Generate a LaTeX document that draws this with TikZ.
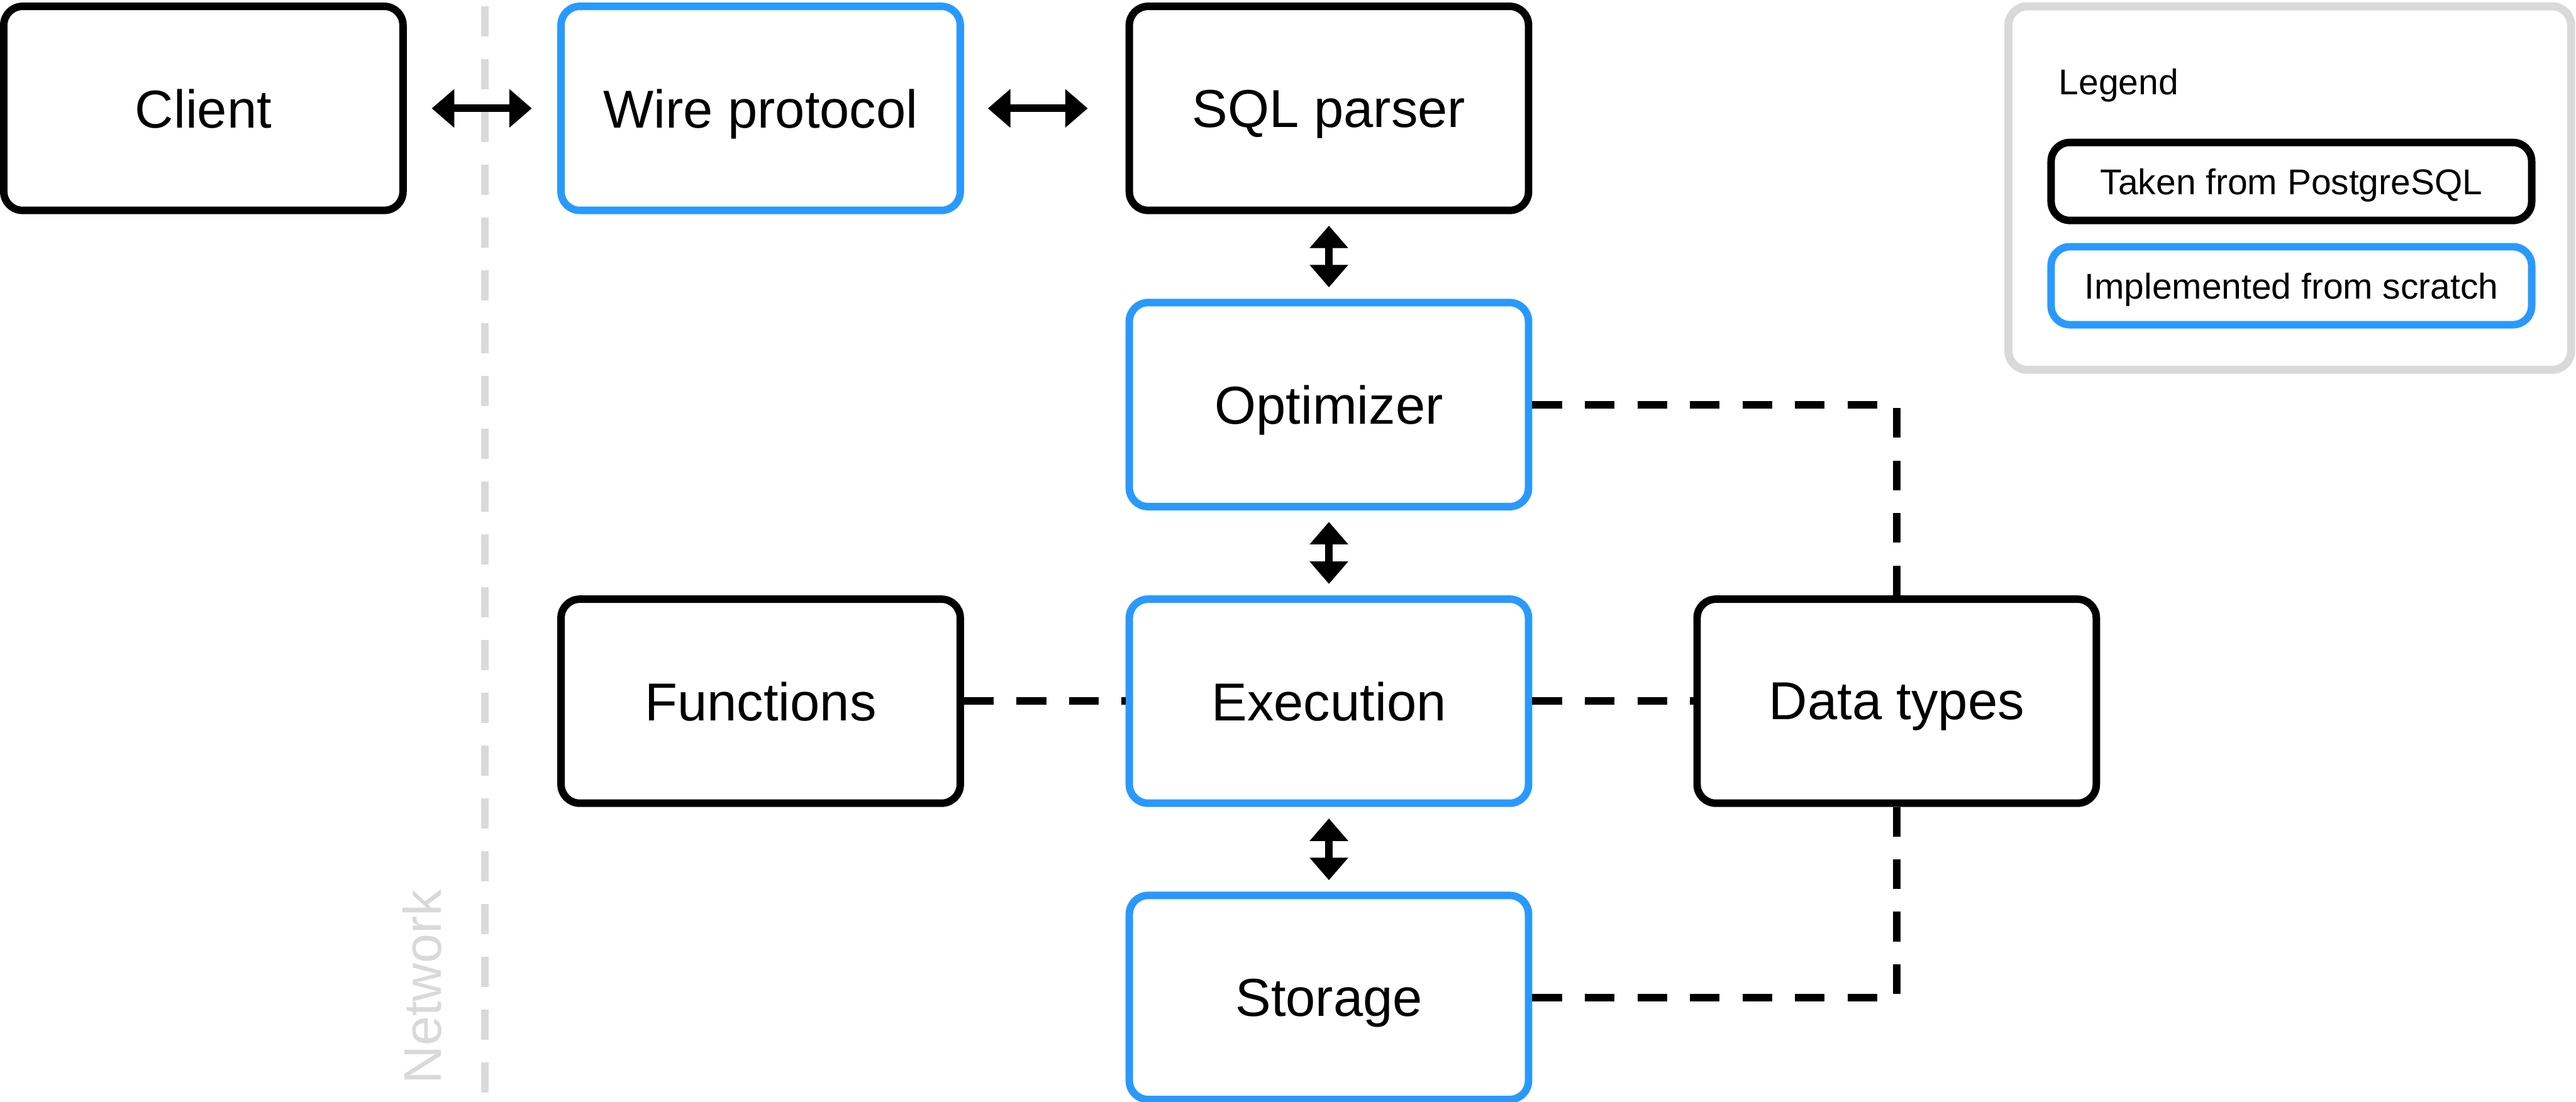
\documentclass[tikz,border=0pt]{standalone}
\usepackage{fontspec}
\setmainfont{Liberation Sans}
\usetikzlibrary{arrows.meta}

\definecolor{scratchblue}{RGB}{41,153,255}
\definecolor{netgray}{RGB}{217,217,217}

\begin{document}
\begin{tikzpicture}[line width=2.6pt,
    pgbox/.style={draw=black, rounded corners=6.5pt, minimum width=4.86cm, minimum height=2.485cm, text depth=0pt, font=\fontsize{18.5}{22}\selectfont},
    ownbox/.style={pgbox, draw=scratchblue},
    keybox/.style={draw=black, rounded corners=6.5pt, minimum width=5.85cm, minimum height=0.95cm, text depth=0pt, font=\fontsize{12.4}{15}\selectfont},
    keyown/.style={keybox, draw=scratchblue},
    flow/.style={{Triangle[length=7.8pt,width=12.9pt]}-{Triangle[length=7.8pt,width=12.9pt]}},
    uses/.style={dash pattern=on 10.3pt off 7.9pt}]
        \useasboundingbox (0,0) rectangle (31.36,13.42);

        % Network boundary
        \coordinate (nettop) at (5.90,13.344);
        \coordinate (netbottom) at (5.90,0);
        \draw[netgray, dash pattern=on 10.4pt off 7.9pt] (nettop) -- (netbottom);
        \node[netgray, rotate=90, font=\fontsize{18.4}{22}\selectfont] (network) at (5.14,1.40) {Network};

        % Components
        \node[pgbox] (client) at (2.476,12.10) {Client};
        \node[ownbox] (wire) at (9.26,12.10) {Wire protocol};
        \node[pgbox] (parser) at (16.178,12.10) {SQL parser};
        \node[ownbox] (optimizer) at (16.178,8.492) {Optimizer};
        \node[pgbox] (functions) at (9.26,4.88) {Functions};
        \node[ownbox] (execution) at (16.178,4.88) {Execution};
        \node[pgbox] (datatypes) at (23.09,4.88) {Data types};
        \node[ownbox] (storage) at (16.178,1.272) {Storage};

        % Query flow
        \draw[flow, shorten <=0.304cm, shorten >=0.31cm] (client) -- (wire);
        \draw[flow, shorten <=0.29cm, shorten >=0.46cm] (wire) -- (parser);
        \draw[flow, shorten <=0.14cm, shorten >=0.14cm] (parser) -- (optimizer);
        \draw[flow, shorten <=0.14cm, shorten >=0.14cm] (optimizer) -- (execution);
        \draw[flow, shorten <=0.14cm, shorten >=0.14cm] (execution) -- (storage);

        % Dependencies
        \draw[uses] (optimizer.east) -| (datatypes.north);
        \draw[uses] (functions.east) -- (execution.west);
        \draw[uses] (execution.east) -- (datatypes.west);
        \draw[uses] (storage.east) -| (datatypes.south);

        % Legend
        \node[draw=netgray, line width=2.8pt, rounded corners=6.5pt, minimum width=6.85cm, minimum height=4.426cm] (legend) at (27.875,11.129) {};
        \node[anchor=base west, inner sep=0pt, font=\fontsize{12.4}{15}\selectfont] (legendtitle) at (25.02,12.27) {Legend};
        \node[keybox] (keytaken) at (27.895,11.21) {Taken from PostgreSQL};
        \node[keyown] (keyscratch) at (27.895,9.94) {Implemented from scratch};
\end{tikzpicture}
\end{document}
